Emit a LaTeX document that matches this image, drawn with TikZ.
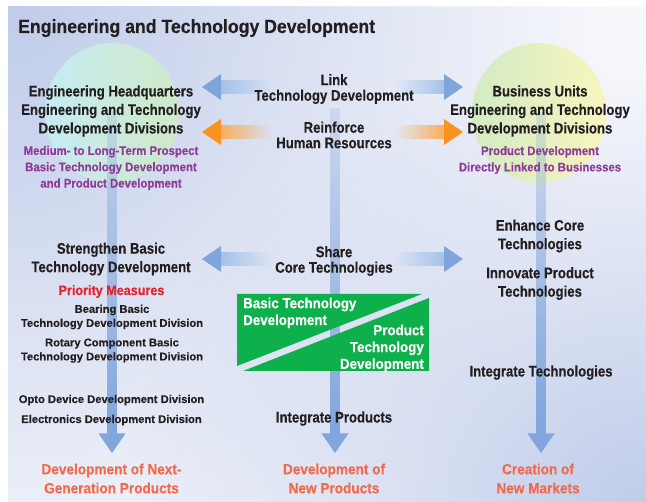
\documentclass[tikz,border=0pt]{standalone}
\usepackage{fontspec}
\setmainfont{Liberation Sans}
\newfontfamily\hdfont{Liberation Sans}[FakeStretch=0.86, FakeBold=0.4]
\newfontfamily\mdfont{Liberation Sans}[FakeStretch=0.92, FakeBold=0.3]
\newfontfamily\smfont{Liberation Sans}[FakeStretch=1.0, FakeBold=0.3]
\usetikzlibrary{fadings,calc}

\definecolor{ink}{HTML}{231F20}
\definecolor{bgblue}{HTML}{C0CCEA}
\definecolor{bgwhite}{HTML}{F7F8FC}
\definecolor{purpletxt}{HTML}{8E3C96}
\definecolor{redtxt}{HTML}{E8202A}
\definecolor{outtxt}{HTML}{F26A4B}
\definecolor{boxgreen}{HTML}{0DB04B}
\definecolor{arrblue}{HTML}{7FA5DB}
\definecolor{arrbluelt}{HTML}{A3C1EA}
\definecolor{arrorange}{HTML}{F7931E}
\definecolor{arrorangelt}{HTML}{F9AE5B}
\definecolor{barblue}{HTML}{80A6DC}
\definecolor{cirA}{HTML}{C6ECF3}
\definecolor{cirB}{HTML}{CFE9C8}
\definecolor{cirC}{HTML}{D3EBC4}
\definecolor{cirD}{HTML}{F8F5BE}

% opacity ramps for the arrow shafts, the vertical bars and the corner tints
\tikzfading[name=fade right, left color=transparent!0, right color=transparent!100]
\tikzfading[name=fade left, left color=transparent!100, right color=transparent!0]
\tikzfading[name=fade up, top color=transparent!80, bottom color=transparent!0]
\tikzfading[name=corner glow, inner color=transparent!0, outer color=transparent!100]

% wide arrow pointing left: tip, end of shaft, head colour, shaft colour
\newcommand\fatarrowleft[4]{%
  \fill[#4, path fading=fade right] ($(#1)+(18,-7)$) rectangle ($(#2)+(0,7)$);
  \fill[#3] (#1) -- ($(#1)+(19,-13)$) -- ($(#1)+(19,13)$) -- cycle;
}
% wide arrow pointing right: tip, start of shaft, head colour, shaft colour
\newcommand\fatarrowright[4]{%
  \fill[#4, path fading=fade left] ($(#2)+(0,-7)$) rectangle ($(#1)+(-18,7)$);
  \fill[#3] (#1) -- ($(#1)+(-19,-13)$) -- ($(#1)+(-19,13)$) -- cycle;
}
% vertical bar ending in an arrow head: top, tip
\newcommand\downbar[2]{%
  \fill[barblue, path fading=fade up] ($(#1)+(-5,0)$) rectangle ($(#2)+(5,-19)$);
  \fill[barblue] (#2) -- ($(#2)+(-13.5,-19.5)$) -- ($(#2)+(13.5,-19.5)$) -- cycle;
}

\tikzset{
  txt/.style={inner sep=0pt, align=center, text=ink},
  title/.style={txt, font=\mdfont\bfseries\fontsize{19.2}{22}\selectfont},
  hd/.style={txt, font=\hdfont\bfseries\fontsize{15.3}{18.5}\selectfont},
  hdtight/.style={txt, font=\hdfont\bfseries\fontsize{15.3}{15.5}\selectfont},
  sub/.style={txt, text=purpletxt, font=\mdfont\bfseries\fontsize{12.4}{16.3}\selectfont},
  prio/.style={txt, text=redtxt, font=\mdfont\bfseries\fontsize{13.7}{16}\selectfont},
  sm/.style={txt, font=\smfont\bfseries\fontsize{11.2}{14}\selectfont},
  outc/.style={txt, text=outtxt, font=\mdfont\bfseries\fontsize{14.8}{19}\selectfont},
  boxtxt/.style={txt, text=white, font=\mdfont\bfseries\fontsize{14.5}{16.8}\selectfont},
}

\begin{document}
\begin{tikzpicture}[x=1pt, y=-1pt]
\useasboundingbox (0,0) rectangle (646,502);

% panel: near-white, tinted blue towards the top-left and bottom-right corners
\fill[bgwhite] (8,7) rectangle (646,502);
\begin{scope}
  \clip (8,7) rectangle (646,502);
  \fill[bgblue, path fading=corner glow] (8,7) ellipse [x radius=600, y radius=620];
  \fill[bgblue, path fading=corner glow] (646,502) ellipse [x radius=520, y radius=440];
\end{scope}

% the two organisation circles
\shade[left color=cirA, right color=cirB] (112,113) ellipse [x radius=67, y radius=70];
\shade[left color=cirC, right color=cirD] (539,113) ellipse [x radius=67, y radius=70];

% vertical flows
\coordinate (barL top) at (112,110);  \coordinate (barL tip) at (112,453);
\coordinate (barC top) at (335,108);  \coordinate (barC tip) at (335,453);
\coordinate (barR top) at (541,112);  \coordinate (barR tip) at (541,453);
\downbar{barL top}{barL tip}
\downbar{barC top}{barC tip}
\downbar{barR top}{barR tip}

% horizontal exchanges
\coordinate (lnk L) at (202,87);  \coordinate (lnk Le) at (270,87);
\coordinate (lnk R) at (463,87);  \coordinate (lnk Rs) at (395,87);
\coordinate (hr L) at (202,132);  \coordinate (hr Le) at (270,132);
\coordinate (hr R) at (463,132);  \coordinate (hr Rs) at (395,132);
\coordinate (ct L) at (202,259);  \coordinate (ct Le) at (271,259);
\coordinate (ct R) at (463,259);  \coordinate (ct Rs) at (395,259);
\fatarrowleft{lnk L}{lnk Le}{arrblue}{arrbluelt}
\fatarrowright{lnk R}{lnk Rs}{arrblue}{arrbluelt}
\fatarrowleft{hr L}{hr Le}{arrorange}{arrorangelt}
\fatarrowright{hr R}{hr Rs}{arrorange}{arrorangelt}
\fatarrowleft{ct L}{ct Le}{arrblue}{arrbluelt}
\fatarrowright{ct R}{ct Rs}{arrblue}{arrbluelt}

% split green panel
\fill[boxgreen] (237,294) -- (422,294) -- (237,366) -- cycle;
\fill[boxgreen] (429,298) -- (429,371) -- (243,371) -- cycle;

% texts
\node[title, anchor=base west] (title) at (18,33) {Engineering and Technology Development};

\node[hd] (hq) at (111,111) {Engineering Headquarters\\Engineering and Technology\\Development Divisions};
\node[sub] (hqsub) at (111,168) {Medium- to Long-Term Prospect\\Basic Technology Development\\and Product Development};
\node[hdtight] (link) at (334,89) {Link\\Technology Development};
\node[hdtight] (reinf) at (334,135) {Reinforce\\Human Resources};
\node[hd] (bu) at (540,111) {Business Units\\Engineering and Technology\\Development Divisions};
\node[sub] (busub) at (540,160) {Product Development\\Directly Linked to Businesses};

\node[hd] (strength) at (111,259) {Strengthen Basic\\Technology Development};
\node[hdtight] (share) at (334,261) {Share\\Core Technologies};
\node[hd] (enhance) at (540,236) {Enhance Core\\Technologies};
\node[hd] (innov) at (540,283.5) {Innovate Product\\Technologies};

\node[prio, anchor=base] (prio) at (111.5,295) {Priority Measures};
\node[sm] (bearing) at (112,317) {Bearing Basic\\Technology Development Division};
\node[sm] (rotary) at (112,350.5) {Rotary Component Basic\\Technology Development Division};
\node[sm, anchor=base] (opto) at (111.5,403) {Opto Device Development Division};
\node[sm, anchor=base] (elec) at (111.5,423) {Electronics Development Division};

\node[boxtxt, align=left, anchor=north west] (btd) at (243,297.5) {Basic Technology\\Development};
\node[boxtxt, align=right, anchor=north east] (ptd) at (424,324.5) {Product\\Technology\\Development};

\node[hd, anchor=base] (intT) at (541,376.5) {Integrate Technologies};
\node[hd, anchor=base] (intP) at (334,422.5) {Integrate Products};

\node[outc] (out1) at (111.5,478.5) {Development of Next-\\Generation Products};
\node[outc] (out2) at (334,478.5) {Development of\\New Products};
\node[outc] (out3) at (538,478.5) {Creation of\\New Markets};
\end{tikzpicture}
\end{document}
